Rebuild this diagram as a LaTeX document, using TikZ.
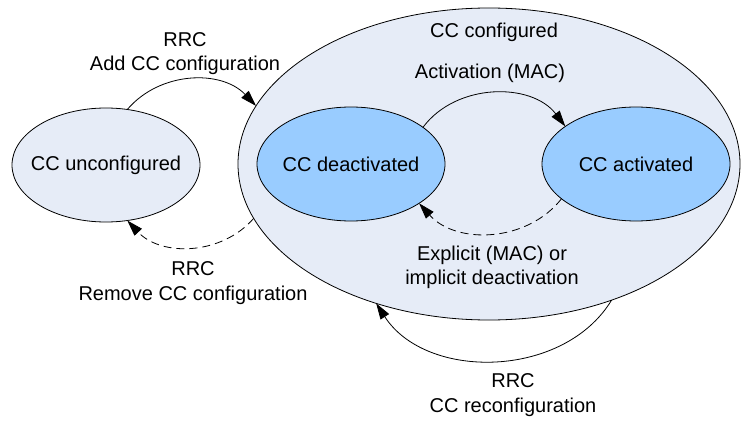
\documentclass[tikz,border=0pt]{standalone}
\usepackage{fontspec}
\setmainfont{Liberation Sans}
\usetikzlibrary{shapes.geometric,arrows.meta}
\definecolor{cfgfill}{RGB}{230,236,247}
\definecolor{ccfill}{RGB}{153,204,255}
\tikzset{
  lbl/.style={align=center,font=\fontsize{20}{24.5}\selectfont},
  state/.style={lbl,ellipse,draw=black,line width=0.8pt,inner xsep=-12pt,inner ysep=0pt,outer sep=0pt,
    minimum width=188pt,minimum height=114pt,fill=ccfill},
  trans/.style={-{Triangle[length=16pt,width=10pt]},line width=0.8pt},
  back/.style={trans,dash pattern=on 8pt off 5pt}
}
\begin{document}
\begin{tikzpicture}[x=1pt,y=1pt]
  \useasboundingbox (0,0) rectangle (741,421);
  \node[state,fill=cfgfill,minimum width=502pt,minimum height=312pt] (cfg) at (489,257) {};
  \node[state,fill=cfgfill] (uncfg) at (106,256) {CC unconfigured};
  \node[state] (deact) at (351,257) {CC deactivated};
  \node[state] (act) at (636,257) {CC activated};
  \node[lbl] (cfgl) at (494,389) {CC configured};
  \node[lbl] (actl) at (490,348) {Activation (MAC)};
  \node[lbl] (addl) at (185,367.5) {RRC\\Add CC configuration};
  \node[lbl] (reml) at (193,138) {RRC\\Remove CC configuration};
  \node[lbl] (deactl) at (492,153.5) {Explicit (MAC) or\\implicit deactivation};
  \node[lbl] (recl) at (513,26) {RRC\\CC reconfiguration};
  \draw[trans] (uncfg.69) to[bend left=48] (cfg.166);
  \draw[trans] (deact.27) to[bend left=53] (act.152);
  \draw[back] (act.205) to[bend left=50] (deact.330);
  \draw[back] (cfg.193) to[bend left=48] (uncfg.291);
  \draw[trans] (cfg.312) to[bend left=58] (cfg.231);
\end{tikzpicture}
\end{document}
